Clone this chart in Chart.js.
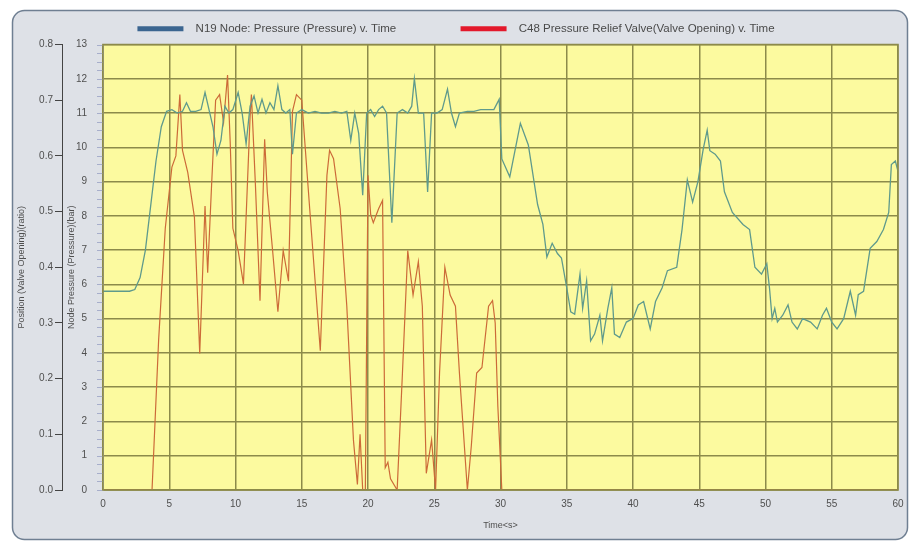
<!DOCTYPE html>
<html>
<head>
<meta charset="utf-8">
<script src="https://cdn.jsdelivr.net/npm/chart.js@4.4.1/dist/chart.umd.min.js"></script>
<style>
  html, body { margin: 0; padding: 0; background: #ffffff; }
  #wrap { width: 913px; height: 546px; }
</style>
</head>
<body>
<div id="wrap"><canvas id="chart" width="913" height="546"></canvas></div>
<script>
// N19 node pressure (bar) v. time (s)
var timeP = [0, 1, 2, 2.4, 2.8, 3.2, 3.6, 4.0, 4.4, 4.8, 5.2, 5.6, 6.0, 6.3, 6.6, 7.0, 7.4, 7.7, 8.0, 8.3,
  8.6, 8.9, 9.2, 9.5, 9.8, 10.2, 10.5, 10.8, 11.1, 11.4, 11.7, 12.0, 12.3, 12.6, 12.9, 13.2, 13.5, 13.8, 14.1, 14.3,
  14.6, 15.0, 15.5, 16.0, 16.5, 17.0, 17.5, 18.0, 18.4, 18.7, 19.0, 19.3, 19.6, 19.9, 20.2, 20.5, 20.8, 21.1, 21.4, 21.8,
  22.2, 22.6, 23.0, 23.3, 23.5, 23.8, 24.2, 24.5, 24.8, 25.2, 25.6, 26.0, 26.3, 26.6, 26.9, 27.5, 28.0, 28.5, 29.0, 29.5,
  29.9, 30.1, 30.7, 31.5, 32.1, 32.8, 33.2, 33.5, 33.9, 34.3, 34.6, 35.0, 35.3, 35.6, 36.0, 36.2, 36.5, 36.8, 37.1, 37.5,
  37.7, 38.1, 38.4, 38.6, 39.0, 39.5, 40.0, 40.4, 40.8, 41.3, 41.7, 42.2, 42.6, 43.3, 43.7, 44.1, 44.5, 44.9, 45.3, 45.6,
  45.8, 46.2, 46.6, 46.9, 47.5, 48.3, 48.8, 49.2, 49.7, 50.1, 50.3, 50.5, 50.7, 50.9, 51.3, 51.7, 52.0, 52.4, 52.8, 53.4,
  53.9, 54.3, 54.6, 55.0, 55.4, 55.9, 56.4, 56.8, 57.0, 57.4, 57.9, 58.4, 58.9, 59.3, 59.5, 59.8, 60.0];
var pressure = [5.8, 5.8, 5.8, 5.85, 6.2, 7.0, 8.3, 9.6, 10.6, 11.05, 11.1, 11.0, 11.05, 11.3, 11.05, 11.05, 11.1, 11.6, 11.1, 10.6,
  9.8, 10.2, 11.2, 11.0, 11.1, 11.6, 11.0, 10.1, 11.2, 11.5, 11.0, 11.4, 11.0, 11.3, 11.1, 11.8, 11.1, 11.0, 11.1, 9.8,
  11.0, 11.1, 11.0, 11.05, 11.0, 11.0, 11.05, 11.0, 11.05, 10.2, 11.0, 10.4, 8.6, 11.0, 11.1, 10.9, 11.1, 11.2, 11.0, 7.8,
  11.0, 11.1, 11.0, 11.2, 12.0, 11.0, 11.0, 8.7, 11.0, 11.0, 11.1, 11.7, 11.0, 10.6, 11.0, 11.05, 11.05, 11.1, 11.1, 11.1,
  11.4, 9.66, 9.14, 10.7, 10.07, 8.33, 7.75, 6.8, 7.2, 6.9, 6.77, 5.9, 5.2, 5.13, 6.3, 5.3, 6.1, 4.35, 4.55, 5.1,
  4.35, 5.3, 5.9, 4.55, 4.45, 4.9, 5.0, 5.4, 5.5, 4.7, 5.5, 5.9, 6.4, 6.5, 7.6, 9.05, 8.4, 9.0, 9.95, 10.5,
  9.9, 9.8, 9.6, 8.7, 8.1, 7.75, 7.6, 6.5, 6.3, 6.6, 5.9, 5.0, 5.3, 4.9, 5.1, 5.4, 4.9, 4.7, 5.0, 4.9,
  4.7, 5.1, 5.3, 4.9, 4.7, 5.0, 5.8, 5.1, 5.7, 5.8, 7.05, 7.25, 7.6, 8.1, 9.5, 9.6, 9.3];

// C48 pressure relief valve opening (ratio) v. time (s)
var timeV = [0, 3.7, 4.2, 4.7, 5.2, 5.5, 5.8, 6.0, 6.4, 6.9, 7.3, 7.7, 7.9, 8.2, 8.5, 8.8, 9.1, 9.4, 9.6, 9.8,
  10.2, 10.6, 11.1, 11.2, 11.5, 11.85, 12.2, 12.4, 12.8, 13.2, 13.6, 14.0, 14.3, 14.6, 15.0, 15.6, 16.4, 16.9, 17.1, 17.4,
  17.9, 18.4, 18.9, 19.2, 19.4, 19.6, 19.8, 20.0, 20.2, 20.4, 20.8, 21.1, 21.3, 21.5, 21.7, 22.2, 22.6, 23.0, 23.4, 23.8,
  24.1, 24.4, 24.8, 25.1, 25.4, 25.8, 26.2, 26.6, 26.9, 27.5, 27.8, 28.2, 28.6, 29.1, 29.4, 29.6, 29.8, 30.1, 60];
var valve = [0, 0, 0.27, 0.47, 0.58, 0.6, 0.71, 0.61, 0.57, 0.49, 0.245, 0.51, 0.39, 0.55, 0.70, 0.71, 0.66, 0.745, 0.625, 0.47,
  0.43, 0.37, 0.67, 0.71, 0.55, 0.34, 0.63, 0.535, 0.43, 0.32, 0.43, 0.375, 0.68, 0.71, 0.70, 0.505, 0.25, 0.565, 0.61, 0.595,
  0.505, 0.33, 0.09, 0.01, 0.1, 0, 0, 0.565, 0.495, 0.48, 0.505, 0.52, 0.04, 0.05, 0.02, 0, 0.21, 0.43, 0.35, 0.41,
  0.33, 0.03, 0.09, 0, 0.21, 0.40, 0.35, 0.33, 0.21, 0, 0.08, 0.21, 0.22, 0.33, 0.34, 0.30, 0.15, 0, 0];

var seriesNames = ['N19 Node: Pressure (Pressure) v. Time', 'C48 Pressure Relief Valve(Valve Opening) v. Time'];
var legendColors = ['#3b6590', '#e3182b'];

function toPoints(xs, ys) {
    return xs.map(function (x, i) { return { x: x, y: ys[i] }; });
}

var olive = '#8c8a4a';
var tickFont = { family: 'Liberation Sans', size: 10 };

// frame, plot fill, plot border and the little minor-tick strip
var framePlugin = {
    id: 'frame',
    beforeDraw: function (chart) {
        var ctx = chart.ctx, a = chart.chartArea;
        ctx.save();
        ctx.fillStyle = '#ffffff';
        ctx.fillRect(0, 0, chart.width, chart.height);
        ctx.beginPath();
        ctx.roundRect(12.5, 10.5, 895, 529, 12);
        ctx.fillStyle = '#dee1e7';
        ctx.fill();
        ctx.lineWidth = 1.5;
        ctx.strokeStyle = '#6f7f92';
        ctx.stroke();
        ctx.fillStyle = '#fcfa9f';
        ctx.fillRect(a.left, a.top, a.right - a.left, a.bottom - a.top);
        ctx.restore();
    },
    afterDraw: function (chart) {
        var ctx = chart.ctx, a = chart.chartArea, yP = chart.scales.yP;
        ctx.save();
        ctx.strokeStyle = '#a7aecb';
        ctx.lineWidth = 1;
        for (var v = 0; v <= 13.001; v += 0.25) {
            var y = Math.round(yP.getPixelForValue(v)) + 0.5;
            ctx.beginPath();
            ctx.moveTo(a.left - 6, y);
            ctx.lineTo(a.left, y);
            ctx.stroke();
        }
        ctx.strokeStyle = olive;
        ctx.lineWidth = 1.5;
        ctx.strokeRect(a.left, a.top, a.right - a.left, a.bottom - a.top);
        ctx.restore();
    }
};

new Chart(document.getElementById('chart'), {
    type: 'line',
    data: {
        datasets: [
            {
                label: seriesNames[0],
                data: toPoints(timeP, pressure),
                yAxisID: 'yP',
                borderColor: '#5f9a8c',
                borderWidth: 1.3,
                pointRadius: 0,
                tension: 0
            },
            {
                label: seriesNames[1],
                data: toPoints(timeV, valve),
                yAxisID: 'yV',
                borderColor: '#cc6a38',
                borderWidth: 1.2,
                pointRadius: 0,
                tension: 0
            }
        ]
    },
    options: {
        responsive: false,
        animation: false,
        layout: { padding: { left: 14, right: 15, top: 13, bottom: 10 } },
        plugins: {
            tooltip: { enabled: false },
            legend: {
                position: 'top',
                labels: {
                    boxWidth: 46,
                    boxHeight: 5,
                    padding: 10,
                    font: { family: 'Liberation Sans', size: 11.5 },
                    color: '#4a4a4a',
                    generateLabels: function (chart) {
                        return seriesNames.map(function (name, i) {
                            // extra blanks only widen the gaps like the original legend
                            var text = '  ' + name + (i === 0 ? '                 ' : '');
                            return {
                                text: text,
                                fillStyle: legendColors[i],
                                strokeStyle: legendColors[i],
                                lineWidth: 0,
                                fontColor: '#4a4a4a',
                                hidden: false,
                                datasetIndex: i
                            };
                        });
                    }
                }
            }
        },
        scales: {
            x: {
                type: 'linear',
                position: 'bottom',
                min: 0,
                max: 60,
                ticks: { stepSize: 5, color: '#4f4f4f', font: tickFont, padding: 8 },
                grid: { color: olive, lineWidth: 1.5, drawTicks: false },
                border: { color: olive, width: 1.5 },
                title: { display: true, text: 'Time<s>', color: '#4f4f4f', font: { family: 'Liberation Sans', size: 9 }, padding: { top: 4, bottom: 5 } },
                afterFit: function (s) { s.height = 46; }
            },
            yP: {
                type: 'linear',
                position: 'left',
                weight: 0,
                min: 0,
                max: 13,
                ticks: { stepSize: 1, color: '#4f4f4f', font: tickFont, padding: 16 },
                grid: { color: olive, lineWidth: 1.5, drawTicks: false },
                border: { color: '#a7aecb', width: 1 },
                title: { display: true, text: 'Node Pressure (Pressure)(bar)', color: '#4f4f4f', font: { family: 'Liberation Sans', size: 9 }, padding: { top: 4, bottom: 0 } },
                afterFit: function (s) { s.width = 41; }
            },
            yV: {
                type: 'linear',
                position: 'left',
                weight: 1,
                min: 0,
                max: 0.8,
                ticks: {
                    stepSize: 0.1,
                    color: '#4f4f4f',
                    font: tickFont,
                    padding: 2,
                    callback: function (v) { return v.toFixed(1); }
                },
                grid: { drawOnChartArea: false, color: '#444', tickLength: 7, lineWidth: 1 },
                border: { color: '#444', width: 1 },
                title: { display: true, text: 'Position (Valve Opening)(ratio)', color: '#4f4f4f', font: { family: 'Liberation Sans', size: 9 }, padding: { top: 2, bottom: 0 } },
                afterFit: function (s) { s.width = 48; }
            }
        }
    },
    plugins: [framePlugin]
});
</script>
</body>
</html>
